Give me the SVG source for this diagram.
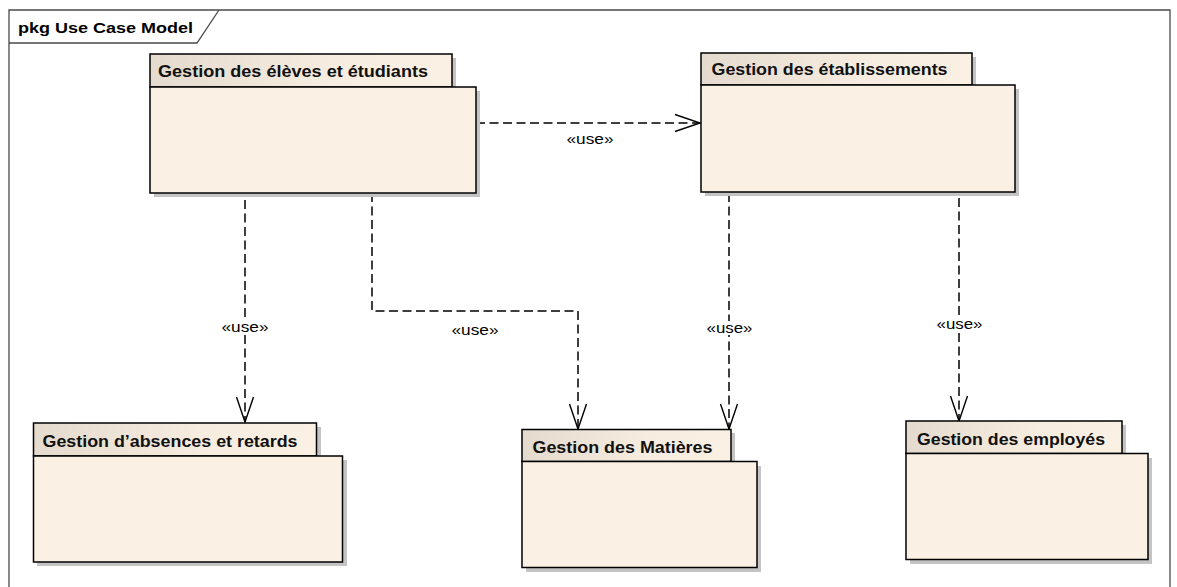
<svg xmlns="http://www.w3.org/2000/svg" width="1177" height="587" viewBox="0 0 1177 587">
  <defs>
    <linearGradient id="tabFill" x1="0" y1="0" x2="1" y2="0">
      <stop offset="0" stop-color="#E4DACD"/>
      <stop offset="0.6" stop-color="#F6ECDF"/>
      <stop offset="1" stop-color="#FAF0E3"/>
    </linearGradient>
    <marker id="openArrow" markerUnits="userSpaceOnUse" markerWidth="30" markerHeight="22" viewBox="-26 -11 30 22" refX="0" refY="0" orient="auto">
      <path d="M-25,-8.5 L0,0 L-25,8.5" fill="none" stroke="#000" stroke-width="1.4"/>
    </marker>
  </defs>
  <style>
    .frame { fill: none; stroke: #4a4a4a; stroke-width: 1.3; }
    .title { font-family: "Liberation Sans", Arial, sans-serif; font-weight: bold; font-size: 15px; fill: #000; }
    .shadow { fill: #C4C4C4; }
    .tab { fill: url(#tabFill); stroke: #000; stroke-width: 1.5; }
    .body { fill: #FAF0E3; stroke: #000; stroke-width: 1.5; }
    .name { font-family: "Liberation Sans", Arial, sans-serif; font-weight: bold; font-size: 16px; fill: #111; }
    .dep { fill: none; stroke: #000; stroke-width: 1.5; stroke-dasharray: 9 4.5; }
    .lblbg { fill: #fff; }
    .lbl { font-family: "Liberation Sans", Arial, sans-serif; font-size: 14px; fill: #000; }
  </style>

  <rect width="1177" height="587" fill="#fff"/>

  <!-- diagram frame with its name tab -->
  <g id="frame">
    <path class="frame" d="M9,595 L9,10 L1170,10 L1170,595"/>
    <path class="frame" d="M9,43 L197,43 L219,10"/>
    <text class="title" x="18" y="33" textLength="175" lengthAdjust="spacingAndGlyphs">pkg Use Case Model</text>
  </g>

  <!-- dependencies -->
  <g id="connectors">
    <path class="dep" d="M476,123 L700,123" marker-end="url(#openArrow)"/>
    <path class="dep" d="M245,200 L245,422" marker-end="url(#openArrow)"/>
    <path class="dep" d="M372,193 L372,311 L578,311 L578,429" marker-end="url(#openArrow)"/>
    <path class="dep" d="M729,193 L729,429" marker-end="url(#openArrow)"/>
    <path class="dep" d="M959,198 L959,421" marker-end="url(#openArrow)"/>

    <rect class="lblbg" x="222" y="320" width="46" height="14"/>
    <rect class="lblbg" x="707" y="321" width="46" height="14"/>
    <rect class="lblbg" x="937" y="317" width="46" height="14"/>

    <text class="lbl" x="566.5" y="144" textLength="47" lengthAdjust="spacingAndGlyphs">«use»</text>
    <text class="lbl" x="221.5" y="331.5" textLength="47" lengthAdjust="spacingAndGlyphs">«use»</text>
    <text class="lbl" x="451.5" y="335" textLength="47" lengthAdjust="spacingAndGlyphs">«use»</text>
    <text class="lbl" x="706.5" y="332.5" textLength="46" lengthAdjust="spacingAndGlyphs">«use»</text>
    <text class="lbl" x="936.5" y="329" textLength="46" lengthAdjust="spacingAndGlyphs">«use»</text>
  </g>

  <!-- packages -->
  <g id="pkg-eleves">
    <rect class="shadow" x="154" y="58" width="302" height="33"/>
    <rect class="shadow" x="154" y="91" width="326" height="106"/>
    <rect class="tab" x="150" y="54" width="302" height="33"/>
    <rect class="body" x="150" y="87" width="326" height="106"/>
    <text class="name" x="158" y="77" textLength="270" lengthAdjust="spacingAndGlyphs">Gestion des élèves et étudiants</text>
  </g>

  <g id="pkg-etablissements">
    <rect class="shadow" x="705" y="57" width="271" height="32"/>
    <rect class="shadow" x="705" y="89" width="314" height="107"/>
    <rect class="tab" x="701" y="53" width="271" height="32"/>
    <rect class="body" x="701" y="85" width="314" height="107"/>
    <text class="name" x="711.5" y="75" textLength="236" lengthAdjust="spacingAndGlyphs">Gestion des établissements</text>
  </g>

  <g id="pkg-absences">
    <rect class="shadow" x="37" y="427" width="284" height="33"/>
    <rect class="shadow" x="37" y="460" width="310" height="106"/>
    <rect class="tab" x="33.5" y="423" width="283" height="33"/>
    <rect class="body" x="33.5" y="456" width="309" height="106"/>
    <text class="name" x="42.5" y="446.5" textLength="255" lengthAdjust="spacingAndGlyphs">Gestion d’absences et retards</text>
  </g>

  <g id="pkg-matieres">
    <rect class="shadow" x="526" y="433" width="209" height="33"/>
    <rect class="shadow" x="526" y="466" width="235" height="106"/>
    <rect class="tab" x="522" y="429.5" width="209" height="32"/>
    <rect class="body" x="522" y="461.5" width="235" height="106"/>
    <text class="name" x="532.5" y="453" textLength="180" lengthAdjust="spacingAndGlyphs">Gestion des Matières</text>
  </g>

  <g id="pkg-employes">
    <rect class="shadow" x="910" y="425" width="216" height="33"/>
    <rect class="shadow" x="910" y="458" width="242" height="106"/>
    <rect class="tab" x="906" y="421" width="216" height="32.5"/>
    <rect class="body" x="906" y="453.5" width="242" height="106"/>
    <text class="name" x="917" y="444.5" textLength="188" lengthAdjust="spacingAndGlyphs">Gestion des employés</text>
  </g>
</svg>
